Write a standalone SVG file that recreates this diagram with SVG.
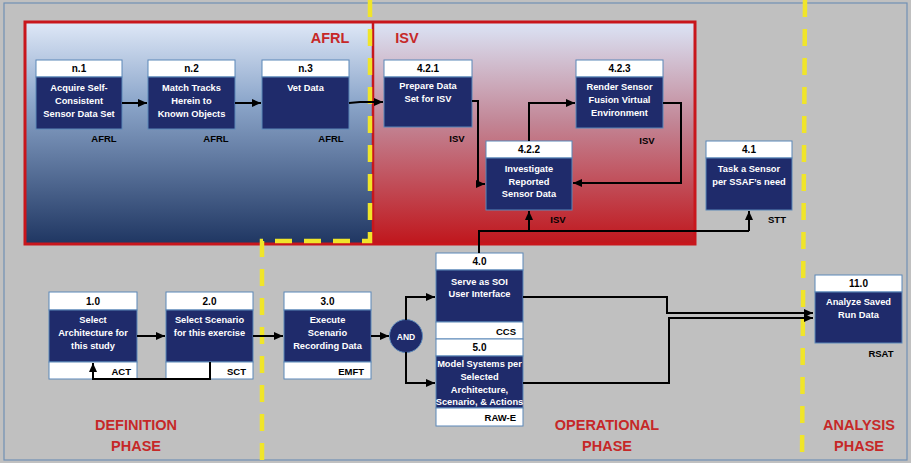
<svg xmlns="http://www.w3.org/2000/svg" width="911" height="463" viewBox="0 0 911 463">
  <defs>
    <linearGradient id="gradAfrl" x1="0" y1="0" x2="0" y2="1">
      <stop offset="0" stop-color="#dfe8f7"/>
      <stop offset="0.35" stop-color="#8ea8cc"/>
      <stop offset="1" stop-color="#1f3662"/>
    </linearGradient>
    <linearGradient id="gradIsv" x1="0" y1="0" x2="0" y2="1">
      <stop offset="0" stop-color="#dbe4f6"/>
      <stop offset="0.45" stop-color="#c28696"/>
      <stop offset="1" stop-color="#c0161c"/>
    </linearGradient>
    <marker id="arrow" markerUnits="userSpaceOnUse" markerWidth="9" markerHeight="8" refX="9" refY="4" orient="auto">
      <path d="M0,0 L9,4 L0,8 z" fill="#000"/>
    </marker>
  </defs>
  <style>
    .hdr { fill: #ffffff; stroke: #5b87b8; stroke-width: 1; }
    .body { fill: #1f2b6b; stroke: #5b87b8; stroke-width: 1; }
    .foot { fill: #ffffff; stroke: #5b87b8; stroke-width: 1; }
    .num { font-family: "Liberation Sans", Arial, sans-serif; font-size: 10px; font-weight: bold; fill: #000; text-anchor: middle; }
    .txt { font-family: "Liberation Sans", Arial, sans-serif; font-size: 9.3px; font-weight: bold; fill: #ffffff; text-anchor: middle; }
    .own { font-family: "Liberation Sans", Arial, sans-serif; font-size: 9.5px; font-weight: bold; fill: #000; text-anchor: middle; }
    .ownr { font-family: "Liberation Sans", Arial, sans-serif; font-size: 9.5px; font-weight: bold; fill: #000; text-anchor: end; }
    .phase { font-family: "Liberation Sans", Arial, sans-serif; font-size: 14.5px; font-weight: bold; fill: #c62828; text-anchor: middle; }
    .yel { fill: none; stroke: #f0e52a; stroke-width: 4.5; stroke-dasharray: 17 12; }
    .conn { fill: none; stroke: #000; stroke-width: 2; marker-end: url(#arrow); }
    .wire { fill: none; stroke: #000; stroke-width: 2; }
  </style>

  <!-- canvas -->
  <rect x="0" y="0" width="911" height="463" fill="#c0c0c0"/>
  <rect x="4" y="3" width="903" height="457" fill="none" stroke="#7090b4" stroke-width="1.2"/>

  <!-- swim regions -->
  <g id="regions">
    <rect x="25" y="22" width="347" height="222" fill="url(#gradAfrl)"/>
    <rect x="372" y="22" width="323" height="222" fill="url(#gradIsv)"/>
    <rect x="25" y="22" width="670" height="222" fill="none" stroke="#c8161c" stroke-width="3"/>
    <line x1="373" y1="22" x2="373" y2="244" stroke="#c8161c" stroke-width="2.5"/>
    <text class="phase" x="330" y="43" font-size="15px">AFRL</text>
    <text class="phase" x="407" y="43" font-size="15px">ISV</text>
  </g>

  <!-- phase dividers -->
  <g id="dividers">
    <path class="yel" d="M370,0 V241 H262 V463"/>
    <path class="yel" d="M805,0 L802,463"/>
  </g>

  <!-- phase titles -->
  <g id="phases">
    <text class="phase" x="136" y="430">DEFINITION</text>
    <text class="phase" x="136" y="451">PHASE</text>
    <text class="phase" x="607" y="430">OPERATIONAL</text>
    <text class="phase" x="607" y="451">PHASE</text>
    <text class="phase" x="859" y="430">ANALYSIS</text>
    <text class="phase" x="859" y="451">PHASE</text>
  </g>

  <!-- AFRL nodes -->
  <g id="n1">
    <rect class="hdr" x="36" y="60" width="86" height="17"/>
    <rect class="body" x="36" y="77" width="86" height="52"/>
    <text class="num" x="79" y="72">n.1</text>
    <text class="txt" x="79" y="90.5">Acquire Self-</text>
    <text class="txt" x="79" y="103.5">Consistent</text>
    <text class="txt" x="79" y="116.5">Sensor Data Set</text>
    <text class="own" x="104" y="141.5">AFRL</text>
  </g>
  <g id="n2">
    <rect class="hdr" x="148" y="60" width="87" height="17"/>
    <rect class="body" x="148" y="77" width="87" height="52"/>
    <text class="num" x="191.5" y="72">n.2</text>
    <text class="txt" x="191.5" y="90.5">Match Tracks</text>
    <text class="txt" x="191.5" y="103.5">Herein to</text>
    <text class="txt" x="191.5" y="116.5">Known Objects</text>
    <text class="own" x="216" y="141.5">AFRL</text>
  </g>
  <g id="n3">
    <rect class="hdr" x="262" y="60" width="87" height="17"/>
    <rect class="body" x="262" y="77" width="87" height="52"/>
    <text class="num" x="305.5" y="72">n.3</text>
    <text class="txt" x="305.5" y="90.5">Vet Data</text>
    <text class="own" x="331" y="141.5">AFRL</text>
  </g>

  <!-- ISV nodes -->
  <g id="n421">
    <rect class="hdr" x="384" y="60" width="88" height="17"/>
    <rect class="body" x="384" y="77" width="88" height="50"/>
    <text class="num" x="428" y="72">4.2.1</text>
    <text class="txt" x="428" y="89">Prepare Data</text>
    <text class="txt" x="428" y="102">Set for ISV</text>
    <text class="own" x="457" y="141.5">ISV</text>
  </g>
  <g id="n423">
    <rect class="hdr" x="576" y="60" width="87" height="17"/>
    <rect class="body" x="576" y="77" width="87" height="51"/>
    <text class="num" x="619.5" y="72">4.2.3</text>
    <text class="txt" x="619.5" y="89.5">Render Sensor</text>
    <text class="txt" x="619.5" y="102.5">Fusion Virtual</text>
    <text class="txt" x="619.5" y="115.5">Environment</text>
    <text class="own" x="647" y="143.5">ISV</text>
  </g>
  <g id="n422">
    <rect class="hdr" x="486" y="141" width="86" height="17"/>
    <rect class="body" x="486" y="158" width="86" height="52"/>
    <text class="num" x="529" y="153">4.2.2</text>
    <text class="txt" x="529" y="171.5">Investigate</text>
    <text class="txt" x="529" y="184.5">Reported</text>
    <text class="txt" x="529" y="197">Sensor Data</text>
    <text class="own" x="558" y="222.5">ISV</text>
  </g>

  <!-- sensor tasking -->
  <g id="n41">
    <rect class="hdr" x="706" y="141" width="86" height="17"/>
    <rect class="body" x="706" y="158" width="86" height="52"/>
    <text class="num" x="749" y="153">4.1</text>
    <text class="txt" x="749" y="171.5">Task a Sensor</text>
    <text class="txt" x="749" y="184.5">per SSAF’s need</text>
    <text class="own" x="777" y="222.5">STT</text>
  </g>

  <!-- definition phase -->
  <g id="n10">
    <rect class="hdr" x="49" y="292" width="88" height="18"/>
    <rect class="body" x="49" y="310" width="88" height="52"/>
    <rect class="foot" x="49" y="362" width="88" height="17"/>
    <text class="num" x="93" y="305">1.0</text>
    <text class="txt" x="93" y="322.5">Select</text>
    <text class="txt" x="93" y="335.5">Architecture for</text>
    <text class="txt" x="93" y="348.5">this study</text>
    <text class="ownr" x="131" y="374.5">ACT</text>
  </g>
  <g id="n20">
    <rect class="hdr" x="166" y="292" width="87" height="18"/>
    <rect class="body" x="166" y="310" width="87" height="52"/>
    <rect class="foot" x="166" y="362" width="87" height="17"/>
    <text class="num" x="209.5" y="305">2.0</text>
    <text class="txt" x="209.5" y="322.5">Select Scenario</text>
    <text class="txt" x="209.5" y="335.5">for this exercise</text>
    <text class="ownr" x="246" y="374.5">SCT</text>
  </g>

  <!-- operational phase -->
  <g id="n30">
    <rect class="hdr" x="284" y="292" width="87" height="18"/>
    <rect class="body" x="284" y="310" width="87" height="52"/>
    <rect class="foot" x="284" y="362" width="87" height="17"/>
    <text class="num" x="327.5" y="305">3.0</text>
    <text class="txt" x="327.5" y="322.5">Execute</text>
    <text class="txt" x="327.5" y="335.5">Scenario</text>
    <text class="txt" x="327.5" y="348.5">Recording Data</text>
    <text class="ownr" x="364" y="374.5">EMFT</text>
  </g>
  <g id="and">
    <circle cx="406" cy="336" r="16.5" fill="#1f2b6b" stroke="#5b87b8" stroke-width="1"/>
    <text x="406" y="339.5" font-family="Liberation Sans, Arial, sans-serif" font-size="8.5px" font-weight="bold" fill="#fff" text-anchor="middle">AND</text>
  </g>
  <g id="n40">
    <rect class="hdr" x="436" y="253" width="87" height="17"/>
    <rect class="body" x="436" y="270" width="87" height="52"/>
    <rect class="foot" x="436" y="322" width="87" height="17"/>
    <text class="num" x="479.5" y="265">4.0</text>
    <text class="txt" x="479.5" y="284.5">Serve as SOI</text>
    <text class="txt" x="479.5" y="297">User Interface</text>
    <text class="ownr" x="516" y="334.5">CCS</text>
  </g>
  <g id="n50">
    <rect class="hdr" x="436" y="339" width="87" height="17"/>
    <rect class="body" x="436" y="356" width="87" height="52"/>
    <rect class="foot" x="436" y="408" width="87" height="18"/>
    <text class="num" x="479.5" y="351">5.0</text>
    <text class="txt" x="479.5" y="366.5">Model Systems per</text>
    <text class="txt" x="479.5" y="379.5">Selected</text>
    <text class="txt" x="479.5" y="392.5">Architecture,</text>
    <text class="txt" x="479.5" y="404.5">Scenario, &amp; Actions</text>
    <text class="ownr" x="516" y="421">RAW-E</text>
  </g>

  <!-- analysis phase -->
  <g id="n110">
    <rect class="hdr" x="815" y="275" width="87" height="17"/>
    <rect class="body" x="815" y="292" width="87" height="51"/>
    <text class="num" x="858.5" y="287">11.0</text>
    <text class="txt" x="858.5" y="304.5">Analyze Saved</text>
    <text class="txt" x="858.5" y="317.5">Run Data</text>
    <text class="own" x="881" y="356.5">RSAT</text>
  </g>

  <!-- connectors (drawn last so loops over footers stay visible) -->
  <g id="connectors">
    <path class="conn" d="M122,103 H147"/>
    <path class="conn" d="M235,103 H261"/>
    <path class="conn" d="M349,103 L360,102 H383"/>
    <path class="conn" d="M472,101 H478 V184 H485"/>
    <path class="conn" d="M529,141 V103 H575"/>
    <path class="conn" d="M663,103 H681 V183 H573"/>
    <path class="wire" d="M479,253 V231 H749"/>
    <path class="conn" d="M749,231 V211"/>
    <path class="conn" d="M529,231 V211"/>
    <path class="conn" d="M137,336 H165"/>
    <path class="conn" d="M253,336 H283"/>
    <path class="conn" d="M371,336 H389"/>
    <path class="conn" d="M406,320 V297 H435"/>
    <path class="conn" d="M406,352 V383 H435"/>
    <path class="conn" d="M210,362 V379 H93 V363"/>
    <path class="conn" d="M523,297 H667 V313 H813"/>
    <path class="conn" d="M523,383 H669 V318 H813"/>
  </g>
</svg>
